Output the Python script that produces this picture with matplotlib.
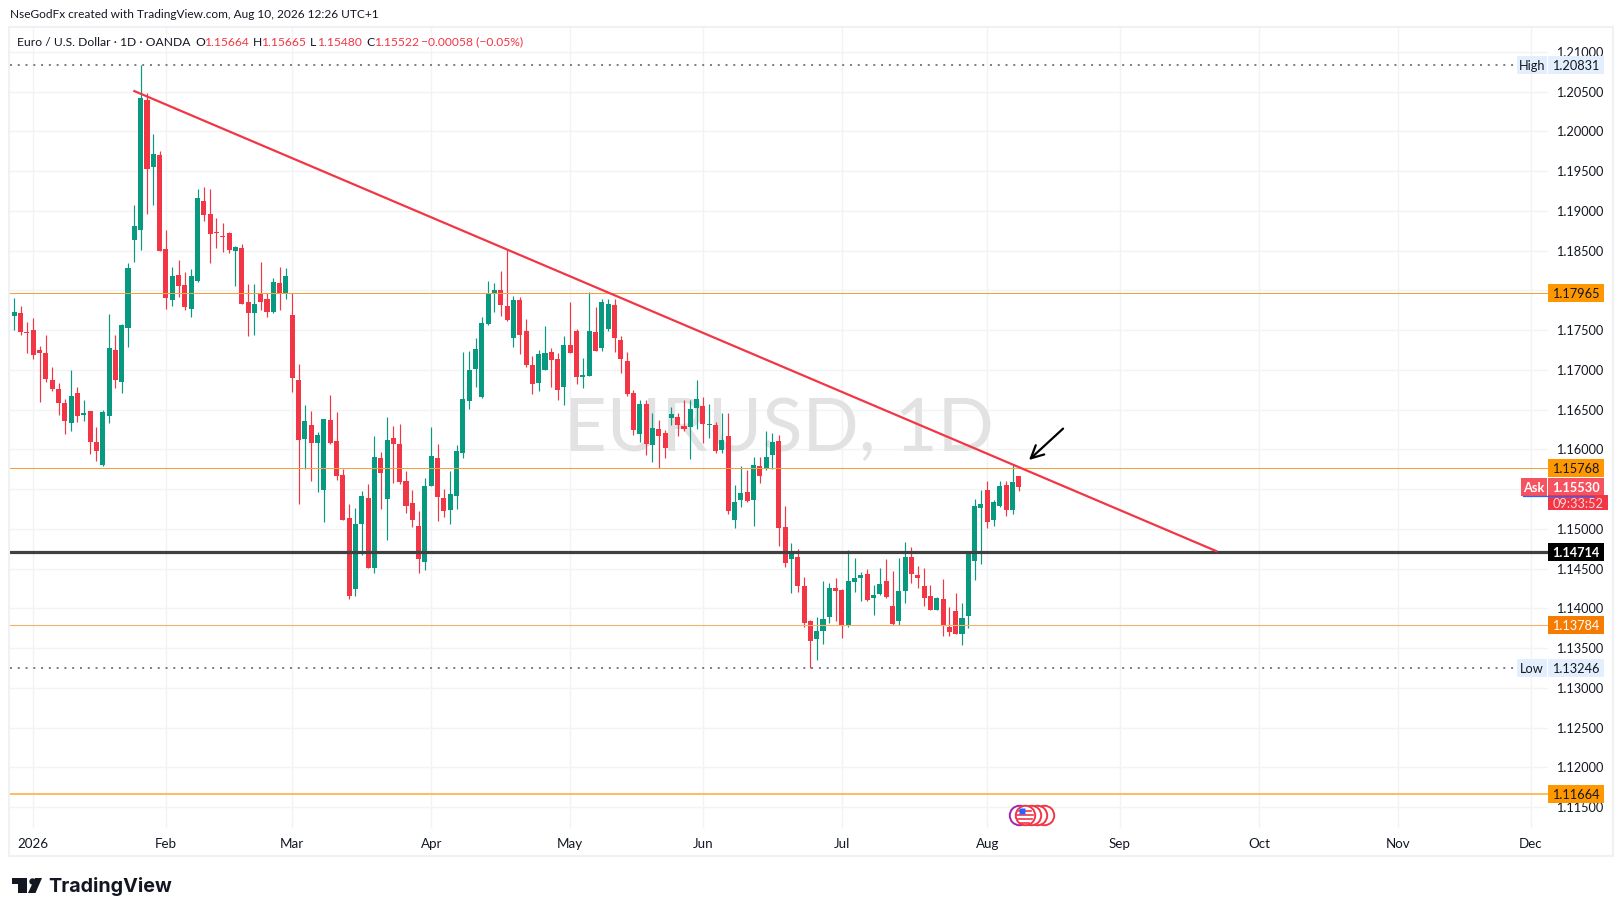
import matplotlib
matplotlib.use("Agg")
import matplotlib.pyplot as plt
import numpy as np
from matplotlib.patches import Circle, Polygon, Rectangle
from matplotlib.transforms import blended_transform_factory

W, H_PX = 1623, 916

opens = [1.17677, 1.17714, 1.17476, 1.17501, 1.17249, 1.17211, 1.16872, 1.16759, 1.16582, 1.16331,
         1.16708, 1.16432, 1.16482, 1.16092, 1.15803, 1.16419, 1.17249, 1.16847, 1.17526, 1.18633,
         1.18759, 1.20394, 1.19551, 1.19702, 1.18520, 1.17878, 1.18193, 1.18067, 1.17765, 1.18117,
         1.19123, 1.18960, 1.18734, 1.18684, 1.18721, 1.18494, 1.18532, 1.17853, 1.17714, 1.17966,
         1.17891, 1.17727, 1.18092, 1.17966, 1.17689, 1.16872, 1.16130, 1.16306, 1.16079, 1.15488,
         1.16369, 1.16105, 1.15677, 1.15136, 1.14243, 1.15061, 1.15387, 1.14507, 1.15891, 1.15375,
         1.16142, 1.16067, 1.15601, 1.15324, 1.15035, 1.14582, 1.15538, 1.15891, 1.15387, 1.15237,
         1.15412, 1.15953, 1.16608, 1.17011, 1.16658, 1.17577, 1.17953, 1.18004, 1.17803, 1.17400,
         1.17878, 1.17488, 1.17061, 1.16834, 1.16998, 1.17224, 1.17136, 1.16784, 1.17312, 1.17488,
         1.16910, 1.16923, 1.17476, 1.17274, 1.17513, 1.17815, 1.17375, 1.17111, 1.16708, 1.16193,
         1.16570, 1.16054, 1.16256, 1.16205, 1.16394, 1.16407, 1.16293, 1.16281, 1.16520, 1.16545,
         1.16306, 1.16306, 1.15991, 1.16168, 1.15111, 1.15362, 1.15463, 1.15362, 1.15790, 1.15753,
         1.15928, 1.16105, 1.15023, 1.14620, 1.14645, 1.14280, 1.13840, 1.13614, 1.13714, 1.13891,
         1.14255, 1.14230, 1.13778, 1.14331, 1.14381, 1.14432, 1.14130, 1.14180, 1.14344, 1.14029,
         1.13840, 1.14218, 1.14645, 1.14419, 1.14280, 1.14155, 1.13979, 1.14118, 1.13765, 1.13966,
         1.13677, 1.13903, 1.14595, 1.15262, 1.15488, 1.15111, 1.15287, 1.15551, 1.15237, 1.15664]

highs = [1.17903, 1.17803, 1.17602, 1.17652, 1.17300, 1.17438, 1.17036, 1.16834, 1.16633, 1.16998,
         1.16784, 1.16620, 1.16482, 1.16281, 1.16495, 1.17702, 1.17438, 1.17577, 1.18343, 1.19073,
         1.20831, 1.20482, 1.19966, 1.19752, 1.18759, 1.18293, 1.18381, 1.18231, 1.18268, 1.19275,
         1.19300, 1.19275, 1.18910, 1.18847, 1.18734, 1.18558, 1.18583, 1.18080, 1.18080, 1.18356,
         1.17966, 1.18155, 1.18293, 1.18281, 1.17966, 1.17074, 1.16558, 1.16482, 1.16218, 1.16382,
         1.16683, 1.16470, 1.15753, 1.15312, 1.15262, 1.15475, 1.15563, 1.16168, 1.15966, 1.16407,
         1.16293, 1.16318, 1.15727, 1.15488, 1.15224, 1.15639, 1.16281, 1.16067, 1.15501, 1.15727,
         1.16054, 1.17224, 1.17236, 1.17400, 1.17664, 1.18117, 1.18092, 1.18243, 1.18507, 1.17928,
         1.17916, 1.17639, 1.17174, 1.17249, 1.17551, 1.17274, 1.17211, 1.17425, 1.17853, 1.17513,
         1.17149, 1.17979, 1.17790, 1.17891, 1.17891, 1.17891, 1.17425, 1.17224, 1.16746, 1.16620,
         1.16620, 1.16457, 1.16369, 1.16243, 1.16533, 1.16457, 1.16620, 1.16620, 1.16872, 1.16658,
         1.16570, 1.16344, 1.16457, 1.16457, 1.15551, 1.15790, 1.15740, 1.15904, 1.15904, 1.16230,
         1.16205, 1.16180, 1.15287, 1.14822, 1.14746, 1.14394, 1.13853, 1.13891, 1.14344, 1.14318,
         1.14381, 1.14243, 1.14733, 1.14633, 1.14457, 1.14495, 1.14293, 1.14507, 1.14620, 1.14469,
         1.14633, 1.14834, 1.14771, 1.14532, 1.14507, 1.14293, 1.14142, 1.14369, 1.14017, 1.14192,
         1.14067, 1.14721, 1.15375, 1.15488, 1.15601, 1.15362, 1.15601, 1.15601, 1.15816, 1.15665]

lows = [1.17501, 1.17438, 1.17211, 1.17136, 1.16595, 1.16847, 1.16733, 1.16432, 1.16193, 1.16230,
        1.16344, 1.16356, 1.15941, 1.15853, 1.15790, 1.16331, 1.16771, 1.16708, 1.17287, 1.18356,
        1.18507, 1.18960, 1.19073, 1.18494, 1.17765, 1.17803, 1.17916, 1.17752, 1.17664, 1.18105,
        1.18872, 1.18343, 1.18532, 1.18482, 1.18469, 1.18055, 1.17828, 1.17425, 1.17438, 1.17752,
        1.17664, 1.17714, 1.17752, 1.17891, 1.16721, 1.15312, 1.15753, 1.15601, 1.15463, 1.15086,
        1.16067, 1.15614, 1.15111, 1.14118, 1.14155, 1.14670, 1.14507, 1.14444, 1.15249, 1.14859,
        1.15576, 1.15563, 1.15199, 1.15023, 1.14444, 1.14482, 1.15538, 1.15098, 1.15149, 1.15061,
        1.15249, 1.15891, 1.16507, 1.16784, 1.16645, 1.17564, 1.17727, 1.17677, 1.17614, 1.17287,
        1.17199, 1.17036, 1.16696, 1.16733, 1.16998, 1.16784, 1.16620, 1.16558, 1.17211, 1.16822,
        1.16771, 1.16923, 1.17236, 1.17236, 1.17488, 1.17224, 1.16960, 1.16671, 1.16180, 1.16092,
        1.15928, 1.15840, 1.15765, 1.15891, 1.16306, 1.16168, 1.16230, 1.15878, 1.16256, 1.16079,
        1.16142, 1.15953, 1.15953, 1.15186, 1.15010, 1.15274, 1.15337, 1.15035, 1.15576, 1.15740,
        1.15753, 1.14784, 1.14520, 1.14192, 1.14205, 1.13765, 1.13246, 1.13350, 1.13551, 1.13815,
        1.13840, 1.13626, 1.13765, 1.14205, 1.14092, 1.14092, 1.13916, 1.14167, 1.14130, 1.13790,
        1.13790, 1.14067, 1.14318, 1.14255, 1.14029, 1.13979, 1.13979, 1.13652, 1.13652, 1.13677,
        1.13538, 1.13752, 1.14356, 1.14558, 1.15010, 1.15035, 1.15274, 1.15161, 1.15186, 1.15480]

closes = [1.17727, 1.17476, 1.17463, 1.17186, 1.17211, 1.16885, 1.16759, 1.16582, 1.16356, 1.16671,
          1.16419, 1.16457, 1.16092, 1.15978, 1.16470, 1.17274, 1.16872, 1.17564, 1.18281, 1.18809,
          1.20419, 1.19526, 1.19715, 1.18494, 1.17903, 1.18180, 1.18055, 1.17790, 1.18180, 1.19161,
          1.18947, 1.18709, 1.18721, 1.18671, 1.18507, 1.18545, 1.17828, 1.17714, 1.17828, 1.17853,
          1.17727, 1.18105, 1.17966, 1.18180, 1.16897, 1.16117, 1.16356, 1.16079, 1.16180, 1.16382,
          1.16079, 1.15665, 1.15111, 1.14155, 1.15061, 1.15412, 1.14507, 1.15904, 1.15702, 1.16117,
          1.16067, 1.15589, 1.15287, 1.15111, 1.14620, 1.15538, 1.15916, 1.15400, 1.15224, 1.15438,
          1.15978, 1.16633, 1.16998, 1.17262, 1.17589, 1.17966, 1.18004, 1.17815, 1.17627, 1.17878,
          1.17438, 1.17061, 1.16822, 1.17199, 1.17211, 1.17124, 1.16746, 1.17312, 1.17211, 1.16910,
          1.16935, 1.17488, 1.17236, 1.17853, 1.17828, 1.17400, 1.17136, 1.16696, 1.16243, 1.16570,
          1.16067, 1.16268, 1.16168, 1.16016, 1.16444, 1.16306, 1.16256, 1.16507, 1.16633, 1.16318,
          1.16318, 1.15978, 1.16117, 1.15224, 1.15337, 1.15450, 1.15349, 1.15803, 1.15665, 1.15904,
          1.16092, 1.15010, 1.14570, 1.14721, 1.14280, 1.13815, 1.13589, 1.13714, 1.13866, 1.14255,
          1.14218, 1.13778, 1.14344, 1.14381, 1.14419, 1.14105, 1.14167, 1.14306, 1.14142, 1.13803,
          1.14218, 1.14645, 1.14432, 1.14381, 1.14130, 1.13979, 1.14130, 1.13778, 1.13702, 1.13677,
          1.13878, 1.14683, 1.15287, 1.15312, 1.15086, 1.15337, 1.15538, 1.15237, 1.15589, 1.15522]

month_labels = ["2026", "Feb", "Mar", "Apr", "May", "Jun", "Jul", "Aug", "Sep", "Oct", "Nov", "Dec"]
month_bars = [3, 24, 44, 66, 88, 109, 131, 154, 175, 197, 219, 240]

price_ticks = [1.115, 1.12, 1.125, 1.13, 1.135, 1.14, 1.145, 1.15, 1.155, 1.16, 1.165, 1.17,
               1.175, 1.18, 1.185, 1.19, 1.195, 1.20, 1.205, 1.21]
skip_tick = [1.155, 1.18]   # hidden behind the ask and level tags

orange_levels = [1.17965, 1.15768, 1.13784, 1.11664]
orange_line = ["#f2a33c", "#f2a33c", "#f5b06b", "#ffb74d"]
orange_width = [0.75, 0.75, 0.8, 1.3]
orange_tag = ["#ff9800", "#ff9800", "#f57c00", "#ff9800"]
orange_text = ["#131722", "#131722", "#ffffff", "#131722"]
black_level = 1.14714
high_price, low_price = 1.20831, 1.13246
ask_price = 1.15530

trend_bars = [18.84, 190.4]
trend_prices = [1.20511, 1.14714]
arrow_bars = [166.0, 160.6]
arrow_prices = [1.16260, 1.15865]

GREEN = "#089981"
RED = "#f23645"
TEXT = "#131722"
GRID = "#f2f3f5"
plt.rcParams["font.family"] = ["Lato", "DejaVu Sans"]

fig = plt.figure(figsize=(W / 100, H_PX / 100), dpi=100, facecolor="white")

# pane in pixels: x 10-1548, y 28-828
PANE_L, PANE_R, PANE_T, PANE_B = 10, 1548, 28, 828
ax = fig.add_axes([PANE_L / W, 1 - PANE_B / H_PX, (PANE_R - PANE_L) / W, (PANE_B - PANE_T) / H_PX])
ax.set_xlim(-0.68, 242.75)
ax.set_ylim(1.11236, 1.21299)
for s in ax.spines.values():
    s.set_visible(False)


def px(x, y):
    return x / W, 1 - y / H_PX


# outer frame
fig.add_artist(Rectangle(px(9, 856), 1604 / W, 829 / H_PX, transform=fig.transFigure,
                         fill=False, ec="#f0f1f3", lw=1.5))

# price scale and time scale
ax.yaxis.tick_right()
ax.set_yticks(price_ticks)
ax.set_yticklabels(["" if t in skip_tick else "%.5f" % t for t in price_ticks], fontsize=9.2, color=TEXT)
ax.tick_params(axis="y", length=0, pad=5.5)
ax.set_xticks(month_bars)
ax.set_xticklabels(month_labels, fontsize=9.6, color=TEXT)
ax.tick_params(axis="x", length=0, pad=7)
ax.grid(True, color=GRID, lw=1.0, zorder=0)
ax.set_axisbelow(True)

# watermark
ax.text(121, 1.1623, "EURUSD, 1D", fontsize=53.4, color="#e2e2e2", ha="center", va="center", zorder=1)

# candles
x = np.arange(len(opens))
o = np.array(opens)
h = np.array(highs)
l = np.array(lows)
c = np.array(closes)
colors = [GREEN if cl >= op else RED for op, cl in zip(o, c)]
ax.vlines(x, l, h, colors=colors, lw=0.85, zorder=3)
ax.bar(x, np.maximum(np.abs(c - o), 0.00012), bottom=np.minimum(o, c), width=0.8, color=colors, lw=0, zorder=3)

# levels
ax.axhline(black_level, color="#404040", lw=2.3, zorder=4)
for lev, col, wd in zip(orange_levels, orange_line, orange_width):
    ax.axhline(lev, color=col, lw=wd, zorder=4)

tag_tr = blended_transform_factory(fig.transFigure, ax.transData)
px_price = 1 / 7950.0


def price_tag(price, label, bg, fg, x0=1548, x1=1604, height=18, bold=False, size=9.2):
    fig.add_artist(Rectangle((x0 / W, price - height / 2 * px_price), (x1 - x0) / W, height * px_price,
                             transform=tag_tr, fc=bg, ec="none", zorder=6))
    fig.text((x0 + x1) / 2 / W, price, label, transform=tag_tr, color=fg, fontsize=size,
             ha="center", va="center_baseline", fontweight="bold" if bold else "normal", zorder=7)


for lev, bg, fg in zip(orange_levels, orange_tag, orange_text):
    price_tag(lev, "%.5f" % lev, bg, fg)
price_tag(black_level, "%.5f" % black_level, "#000000", "#ffffff", bold=True)

# high / low markers
for p, name in ((high_price, "High"), (low_price, "Low")):
    ax.plot([-0.68, 237.8], [p, p], color="#787b86", lw=1.4, ls=(0, (1, 3)), zorder=2)
    price_tag(p, "%.5f" % p, "#e3effd", TEXT)
    price_tag(p, name, "#e3effd", TEXT, x0=1517, x1=1547)

# ask and countdown
price_tag(ask_price - 0.00004, "Ask", "#f7525f", "#ffffff", x0=1521, x1=1547, bold=True)
price_tag(ask_price - 0.00004, "%.5f" % ask_price, "#f7525f", "#ffffff", bold=True)
price_tag(ask_price - 0.00004 - 16 * px_price, "09:33:52", RED, "#fcd5d8", x1=1608, height=15)
fig.add_artist(plt.Line2D([1523 / W, 1594 / W], [ask_price - 0.00004 - 9 * px_price] * 2, transform=tag_tr,
                          color="#2962ff", lw=0.9, zorder=8))

# drawings
ax.plot(trend_bars, trend_prices, color=RED, lw=1.6, zorder=5, solid_capstyle="butt")
ax.annotate("", xy=(arrow_bars[1], arrow_prices[1]), xytext=(arrow_bars[0], arrow_prices[0]),
            arrowprops=dict(arrowstyle="->,head_length=0.9,head_width=0.45", color="black", lw=1.6,
                            shrinkA=0, shrinkB=0), zorder=6)

# header text
fig.text(*px(10, 15), "NseGodFx created with TradingView.com, Aug 10, 2026 12:26 UTC+1", fontsize=8.6,
         color=TEXT, va="center")
fig.text(*px(17, 42), "Euro / U.S. Dollar · 1D · OANDA", fontsize=8.7, color=TEXT, va="center")
for lx, ltxt, vx, vtxt in ((195, "O", 204, "1.15664"), (253, "H", 261.5, "1.15665"),
                           (310, "L", 317, "1.15480"), (366, "C", 374, "1.15522")):
    fig.text(*px(lx, 42), ltxt, fontsize=8.7, color=TEXT, va="center")
    fig.text(*px(vx, 42), vtxt, fontsize=8.7, color=RED, va="center")
fig.text(*px(421, 42), "−0.00058 (−0.05%)", fontsize=8.7, color=RED, va="center")

# event icons on the time scale, flag on the front one
for cx, ec in ((1044, RED), (1037, RED), (1031, RED), (1019, "#9c27b0"), (1025, RED)):
    fig.add_artist(plt.Line2D([cx / W], [1 - 815 / H_PX], transform=fig.transFigure, marker="o", ms=14,
                              mfc="white", mec=ec, mew=1.4, zorder=9))
for yy, half in ((811, 6), (815, 8), (819, 7), (823, 4)):
    fig.add_artist(plt.Line2D([(1025 - half) / W, (1025 + half) / W], [1 - yy / H_PX] * 2,
                              transform=fig.transFigure, color=RED, lw=1.2, zorder=10))
fig.add_artist(plt.Line2D([1021.5 / W], [1 - 811 / H_PX], transform=fig.transFigure, marker="s", ms=4.5,
                          mfc="#2962ff", mec="none", zorder=11))

# logo
logo = "#131722"
fig.add_artist(Polygon([px(12, 878), px(27, 878), px(27, 893), px(18, 893), px(18, 884), px(12, 884)],
                       transform=fig.transFigure, fc=logo, ec="none"))
fig.add_artist(plt.Line2D([31.5 / W], [1 - 881 / H_PX], transform=fig.transFigure, marker="o", ms=4.6,
                          mfc=logo, mec="none"))
fig.add_artist(Polygon([px(35, 878), px(42, 878), px(35.5, 893), px(28, 893)],
                       transform=fig.transFigure, fc=logo, ec="none"))
fig.text(*px(48, 887), "TradingView", fontsize=14.2, fontweight="bold", family=["Inter", "DejaVu Sans"],
         color=logo, va="center")

fig.savefig("out.png", dpi=100)
